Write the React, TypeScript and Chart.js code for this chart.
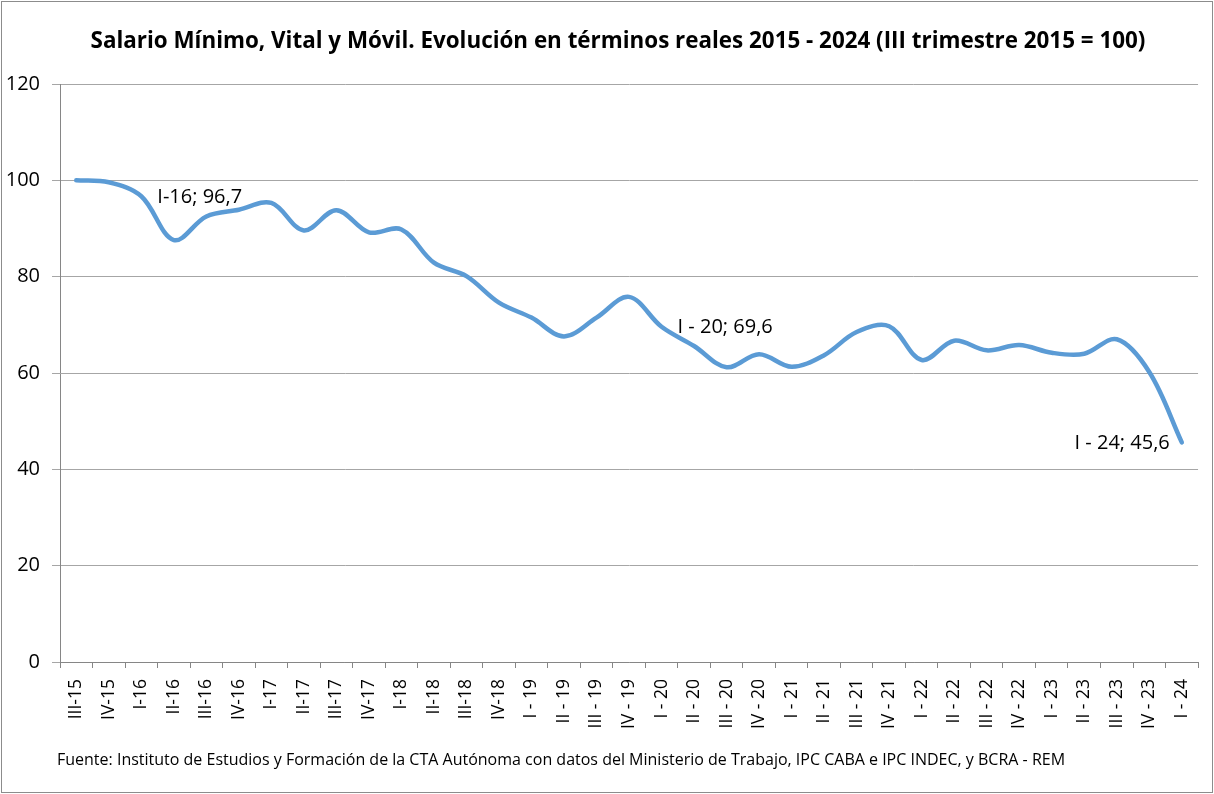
import React, { useEffect, useRef } from "react";
import { Chart, registerables } from "chart.js";

Chart.register(...registerables);

const categories: string[] = [
  "III-15", "IV-15", "I-16", "II-16", "III-16", "IV-16",
  "I-17", "II-17", "III-17", "IV-17",
  "I-18", "II-18", "III-18", "IV-18",
  "I - 19", "II - 19", "III - 19", "IV - 19",
  "I - 20", "II - 20", "III - 20", "IV - 20",
  "I - 21", "II - 21", "III - 21", "IV - 21",
  "I - 22", "II - 22", "III - 22", "IV - 22",
  "I - 23", "II - 23", "III - 23", "IV - 23",
  "I - 24",
];

const salarioReal: number[] = [
  100, 99.6, 96.7, 87.6, 92.5, 93.9,
  95.3, 89.6, 93.8, 89.2,
  89.8, 82.9, 80.1, 74.6,
  71.5, 67.6, 71.5, 75.8,
  69.6, 65.6, 61.2, 63.9,
  61.3, 63.7, 68.5, 69.7,
  62.7, 66.7, 64.7, 65.8,
  64.2, 64.0, 67.0, 60.2,
  45.6,
];

const yTicks: number[] = [0, 20, 40, 60, 80, 100, 120];

const annotations: { index: number; text: string; side: "right" | "left" }[] = [
  { index: 2, text: "I-16; 96,7", side: "right" },
  { index: 18, text: "I - 20; 69,6", side: "right" },
  { index: 34, text: "I - 24; 45,6", side: "left" },
];

const titleText =
  "Salario Mínimo, Vital y Móvil. Evolución en términos reales 2015 - 2024 (III trimestre 2015 = 100)";
const footerText =
  "Fuente: Instituto de Estudios y Formación de la CTA Autónoma con datos del Ministerio de Trabajo, IPC CABA e IPC INDEC, y BCRA - REM";

const FONT = "'Open Sans', 'DejaVu Sans', sans-serif";

export default function App() {
  const canvasRef = useRef<HTMLCanvasElement | null>(null);

  useEffect(() => {
    const canvas = canvasRef.current;
    if (!canvas) return;

    const decorPlugin = {
      id: "decor",
      beforeDraw(chart: any) {
        const ctx = chart.ctx;
        ctx.save();
        ctx.fillStyle = "#ffffff";
        ctx.fillRect(0, 0, chart.width, chart.height);
        ctx.restore();
      },
      afterDraw(chart: any) {
        const ctx = chart.ctx;
        ctx.save();
        // border
        ctx.strokeStyle = "#8c8c8c";
        ctx.lineWidth = 1;
        ctx.strokeRect(1.5, 1.5, chart.width - 3, chart.height - 3);
        // title
        ctx.fillStyle = "#000";
        ctx.font = `bold 22.4px ${FONT}`;
        ctx.textAlign = "center";
        ctx.textBaseline = "middle";
        ctx.fillText(titleText, 618, 42);
        // footer
        ctx.font = `16px ${FONT}`;
        ctx.textAlign = "left";
        ctx.fillText(footerText, 57, 760);
        // annotations
        const meta = chart.getDatasetMeta(0);
        ctx.font = `20px ${FONT}`;
        ctx.textBaseline = "middle";
        annotations.forEach((a) => {
          const pt = meta.data[a.index];
          if (!pt) return;
          if (a.side === "right") {
            ctx.textAlign = "left";
            ctx.fillText(a.text, pt.x + 16, pt.y + 1);
          } else {
            ctx.textAlign = "right";
            ctx.fillText(a.text, pt.x - 12, pt.y + 1);
          }
        });
        ctx.restore();
      },
    };

    const chart = new Chart(canvas, {
      type: "line",
      data: {
        labels: categories,
        datasets: [
          {
            label: "SMVM real",
            data: salarioReal,
            borderColor: "#5B9BD5",
            backgroundColor: "#5B9BD5",
            borderWidth: 4.5,
            pointRadius: 0,
            pointHoverRadius: 0,
            tension: 0.35,
            fill: false,
            borderCapStyle: "round",
          },
        ],
      },
      options: {
        responsive: false,
        animation: false,
        layout: { padding: { top: 84, left: 0, right: 14, bottom: 42 } },
        plugins: {
          legend: { display: false },
          title: { display: false },
          tooltip: { enabled: false },
        },
        scales: {
          x: {
            type: "category",
            offset: true,
            grid: {
              display: true,
              offset: true,
              drawOnChartArea: false,
              drawTicks: true,
              tickLength: 6,
              color: "#868686",
            },
            border: { display: true, color: "#868686", width: 1 },
            ticks: {
              autoSkip: false,
              maxRotation: 90,
              minRotation: 90,
              padding: 11,
              color: "#000",
              font: { family: FONT, size: 17.5 },
            },
            afterFit(scale: any) {
              scale.height = 90;
            },
          },
          y: {
            min: 0,
            max: 120,
            afterBuildTicks(scale: any) {
              scale.ticks = yTicks.map((v) => ({ value: v }));
            },
            grid: {
              color: "#a6a6a6",
              lineWidth: 1,
              tickLength: 8,
              drawTicks: true,
            },
            border: { display: true, color: "#868686", width: 1 },
            ticks: {
              padding: 12,
              color: "#000",
              font: { family: FONT, size: 20 },
            },
            afterFit(scale: any) {
              scale.width = 60;
            },
          },
        },
      },
      plugins: [decorPlugin],
    });

    return () => {
      chart.destroy();
    };
  }, []);

  return (
    <div style={{ position: "fixed", left: 0, top: 0, width: 1214, height: 794, background: "#fff" }}>
      <canvas ref={canvasRef} width={1214} height={794} style={{ display: "block" }} />
    </div>
  );
}
